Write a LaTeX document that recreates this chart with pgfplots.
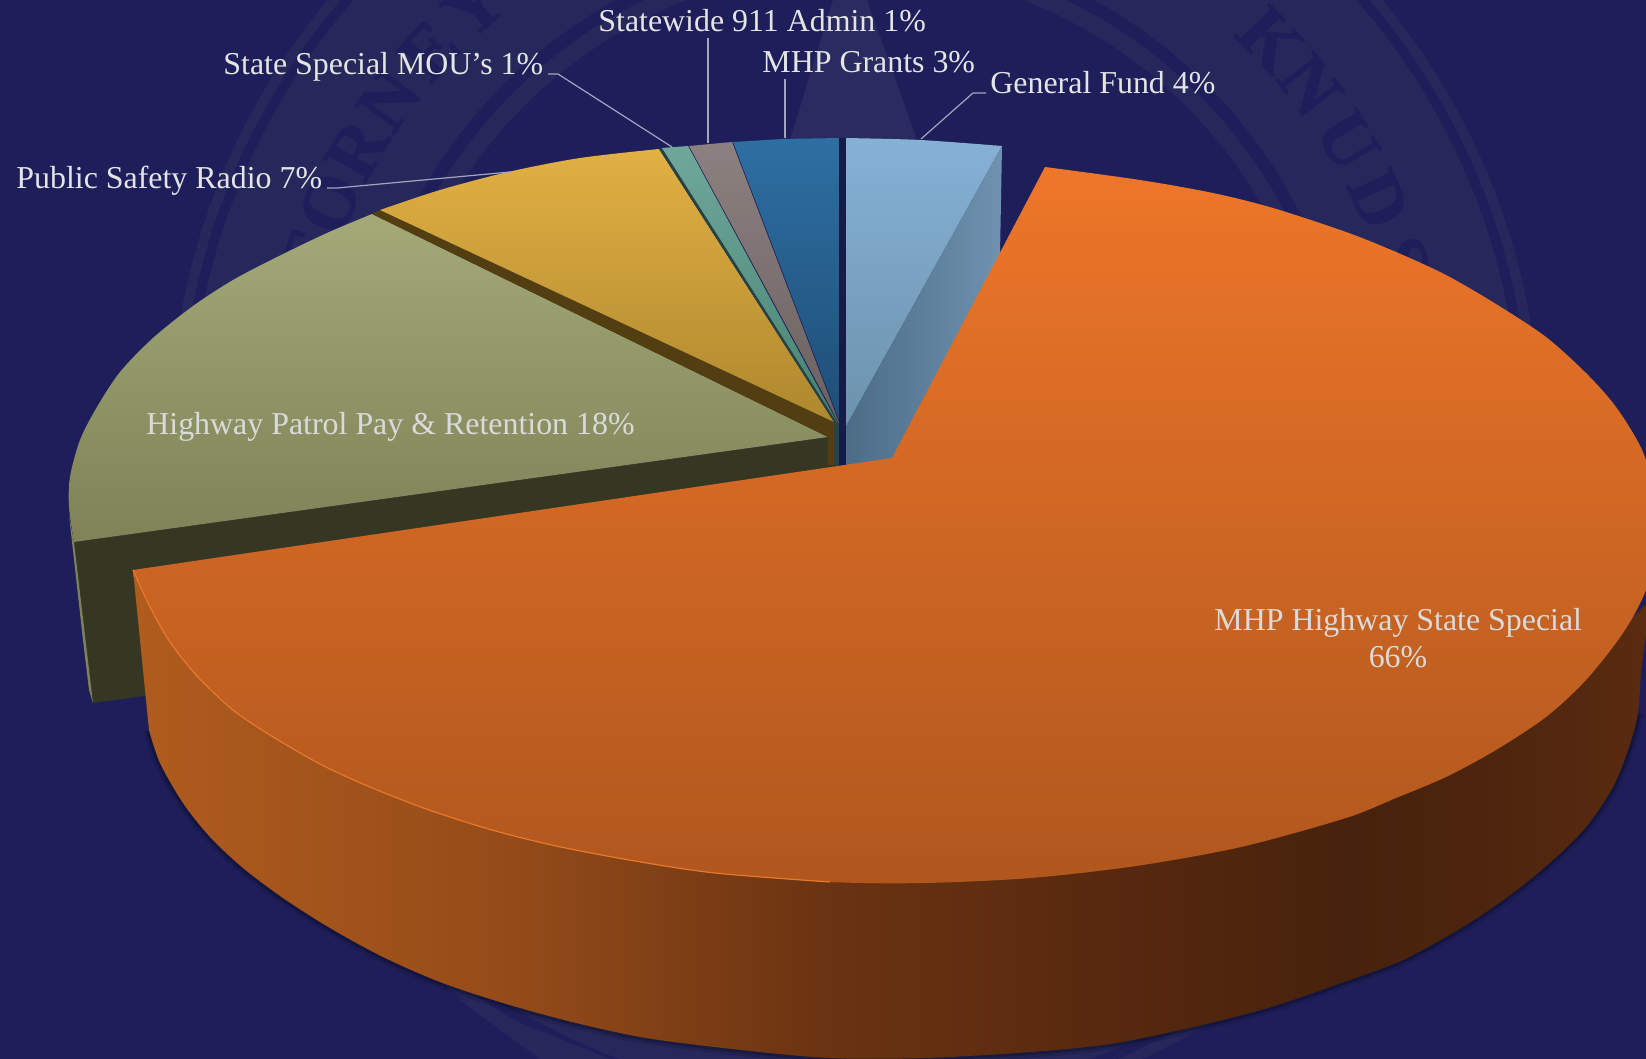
\documentclass[border=0pt]{standalone}
\usepackage{pgfplots}
\usepackage{fontspec}
\setmainfont{Liberation Serif}
\newfontfamily\sealfont{Liberation Serif}[BoldFont={Liberation Serif Bold},BoldFeatures={FakeBold=1.2}]
\pgfplotsset{compat=1.18}
\definecolor{bgc}{HTML}{1E1F5A}
\definecolor{seal}{HTML}{26275B}
\definecolor{lab}{HTML}{E4E4E4}
\definecolor{labin}{HTML}{DADADA}
\definecolor{lead}{HTML}{A3A5BE}
\definecolor{wa}{HTML}{B05C1E}
\definecolor{wb}{HTML}{964C19}
\definecolor{wc}{HTML}{6A3312}
\definecolor{wd}{HTML}{58290F}
\definecolor{we}{HTML}{47220C}
\definecolor{wf}{HTML}{4E250E}
\definecolor{wg}{HTML}{5A2C10}
\pgfdeclarehorizontalshading{wallshade}{100bp}{color(0bp)=(wa);color(25bp)=(wa);color(37bp)=(wb);color(48bp)=(wc);color(57bp)=(wd);color(65bp)=(we);color(70bp)=(wf);color(75bp)=(wg);color(100bp)=(wg)}
\newcommand{\sealch}[2]{\node[text=bgc,font=\fontsize{37}{37}\sealfont\bfseries,rotate=#1-90] at (axis cs:{855+575*cos(#1)},{437-575*sin(#1)}) {#2};}
\begin{document}
\begin{tikzpicture}
\path[use as bounding box] (0,0) rectangle (823pt,529.5pt);
\begin{axis}[at={(0,0)},anchor=south west,scale only axis,width=823pt,height=529.5pt,
  xmin=0,xmax=1646,ymin=0,ymax=1059,y dir=reverse,axis lines=none,clip mode=global]
% background
\addplot[draw=none,fill=bgc] coordinates {(0,0)(1646,0)(1646,1059)(0,1059)} --cycle;
\draw[seal,line width=83.5pt] (axis cs:855,437) circle [radius=290.75pt];
\draw[seal,line width=5pt] (axis cs:855,437) circle [radius=340pt];
\draw[seal,line width=8.5pt] (axis cs:855,437) circle [radius=238.25pt];
\sealch{43.7}{K}\sealch{37.7}{N}\sealch{31}{U}\sealch{24.4}{D}\sealch{18}{S}\sealch{12}{E}
\sealch{131.5}{Y}\sealch{137.8}{E}\sealch{144.1}{N}\sealch{150}{R}\sealch{156}{O}\sealch{162}{T}\sealch{168}{T}
% faint emblem
\addplot[draw=none,fill={rgb,255:red,42;green,43;blue,96}] coordinates {(833,0)(867,0)(917,140)(790,140)} --cycle;
\addplot[draw=none,fill=seal] coordinates {(456,997)(610,1059)(540,1059)} --cycle;
% dark faces behind
\addplot[draw=none,fill={rgb,255:red,54;green,55;blue,35}] coordinates {(74,542)(828,437)(845,437)(845,470)(150,695)(93,703)} --cycle;
\addplot[draw=none,fill={rgb,255:red,125;green,130;blue,88}] coordinates {(69,515)(74,542)(93,703)(89,690)(83,640)} --cycle;
% olive
\addplot[draw=none,smooth,top color={rgb,255:red,163;green,169;blue,119},bottom color={rgb,255:red,126;green,131;blue,88}] coordinates {(74,542)(69,507)(70,477)(80,440)(97,407)(120,372)(153,338)(193,306)(233,280)(277,257)(327,233)(372,214)} -- (axis cs:828,437) -- cycle;
% gold wall
\addplot[draw=none,fill={rgb,255:red,82;green,62;blue,17}] coordinates {(372,214)(380,210)(834,422)(834,465)(828,465)(828,437)} --cycle;
% gold
\addplot[draw=none,smooth,top color={rgb,255:red,226;green,176;blue,67},bottom color={rgb,255:red,174;green,136;blue,46}] coordinates {(380,210)(440,190)(508,172)(580,158)(659,149)} -- (axis cs:834,422) -- cycle;
% teal etc
\addplot[draw=none,fill={rgb,255:red,38;green,66;blue,70}] coordinates {(659,149)(662,148)(841,425)(841,465)(834,465)(834,422)} --cycle;
\addplot[draw=none,top color={rgb,255:red,111;green,168;blue,154},bottom color={rgb,255:red,70;green,130;blue,115}] coordinates {(662,148)(688,146)(838,424)} --cycle;
\addplot[draw=none,top color={rgb,255:red,141;green,128;blue,128},bottom color={rgb,255:red,105;green,97;blue,95}] coordinates {(689,146)(732,142)(840,425)} --cycle;
\addplot[draw=none,top color={rgb,255:red,46;green,111;blue,163},bottom color={rgb,255:red,30;green,78;blue,118}] coordinates {(733,142)(783,139)(841,138)(841,425)} --cycle;
% light blue
\addplot[draw=none,smooth,top color={rgb,255:red,134;green,177;blue,214},bottom color={rgb,255:red,108;green,146;blue,172}] coordinates {(844,138)(920,140)(1002,146)} -- (axis cs:844,430) -- cycle;
\addplot[draw=none,left color={rgb,255:red,76;green,108;blue,134},right color={rgb,255:red,110;green,146;blue,176}] coordinates {(1002,146)(1000,255)(892,462)(844,470)(844,430)} --cycle;
\addplot[draw=none,fill={rgb,255:red,22;green,28;blue,72}] coordinates {(839,138)(846,138)(846,468)(839,468)} --cycle;
% shadow of wall
\addplot[color=black!70!bgc,opacity=.15,line width=6pt,smooth] coordinates {(149,730)(160,763)(183,803)(210,837)(243,868)(283,898)(330,928)(383,957)(440,982)(503,1003)(572,1022)(646,1038)(741,1050)(830,1058)(925,1058)(1031,1052)(1110,1044)(1189,1028)(1268,1008)(1347,981)(1403,960)(1463,927)(1513,893)(1553,860)(1586,827)(1613,787)(1629,747)(1638,713)};
\addplot[color=black!70!bgc,opacity=.3,line width=3pt,smooth] coordinates {(149,730)(160,763)(183,803)(210,837)(243,868)(283,898)(330,928)(383,957)(440,982)(503,1003)(572,1022)(646,1038)(741,1050)(830,1058)(925,1058)(1031,1052)(1110,1044)(1189,1028)(1268,1008)(1347,981)(1403,960)(1463,927)(1513,893)(1553,860)(1586,827)(1613,787)(1629,747)(1638,713)};
% orange wall
\addplot[draw=none,smooth,shading=wallshade] coordinates {(149,730)(160,763)(183,803)(210,837)(243,868)(283,898)(330,928)(383,957)(440,982)(503,1003)(572,1022)(646,1038)(741,1050)(830,1058)(925,1058)(1031,1052)(1110,1044)(1189,1028)(1268,1008)(1347,981)(1403,960)(1463,927)(1513,893)(1553,860)(1586,827)(1613,787)(1629,747)(1638,713)(1641,673)(1646,633)(1650,600)} -- (axis cs:1560,690) -- (axis cs:900,860) -- (axis cs:133,570) -- cycle;
% orange top
\addplot[draw=none,smooth,top color={rgb,255:red,238;green,118;blue,41},bottom color={rgb,255:red,176;green,87;blue,30}] coordinates {(1045,167)(1140,180)(1213,193)(1273,208)(1346,232)(1396,252)(1446,275)(1496,304)(1546,337)(1586,373)(1613,403)(1633,433)(1646,460)(1665,525)(1646,590)(1623,633)(1586,680)(1546,717)(1496,750)(1446,777)(1396,798)(1346,818)(1241,847)(1136,866)(1031,878)(925,883)(830,882)(715,873)(635,861)(556,846)(492,830)(429,810)(370,787)(320,764)(270,735)(233,710)(197,676)(170,642)(150,607)(133,570)} -- (axis cs:892,458) -- cycle;
\addplot[color={rgb,255:red,232;green,120;blue,44},line width=0.6pt,smooth] coordinates {(133,570)(150,607)(170,642)(197,676)(233,710)(270,735)(320,764)(370,787)(429,810)(492,830)(556,846)(635,861)(715,873)(830,882)};
% leader lines
\addplot[color=lead,line width=0.6pt] coordinates {(548,74)(558,74)(672,147)};
\addplot[color=lead,line width=0.6pt] coordinates {(708,38)(708,143)};
\addplot[color=lead,line width=0.6pt] coordinates {(785,79)(785,138)};
\addplot[color=lead,line width=0.6pt] coordinates {(986,93)(973,93)(921,139)};
\addplot[color=lead,line width=0.6pt] coordinates {(327,188)(337,188)(510,172)};
% labels
\begin{scope}[every node/.style={font=\fontsize{15.95}{18}\selectfont,text=lab,anchor=base west,inner sep=0pt}]
\node at (axis cs:598,32) {Statewide 911 Admin 1\%};
\node at (axis cs:223,75) {State Special MOU’s 1\%};
\node at (axis cs:762,73) {MHP Grants 3\%};
\node at (axis cs:990,94) {General Fund 4\%};
\node at (axis cs:16,189) {Public Safety Radio 7\%};
\node[text=labin] at (axis cs:146,435) {Highway Patrol Pay \& Retention 18\%};
\node[text=labin] at (axis cs:1214,631) {MHP Highway State Special};
\node[text=labin,anchor=base] at (axis cs:1398,668) {66\%};
\end{scope}
\end{axis}
\end{tikzpicture}
\end{document}
